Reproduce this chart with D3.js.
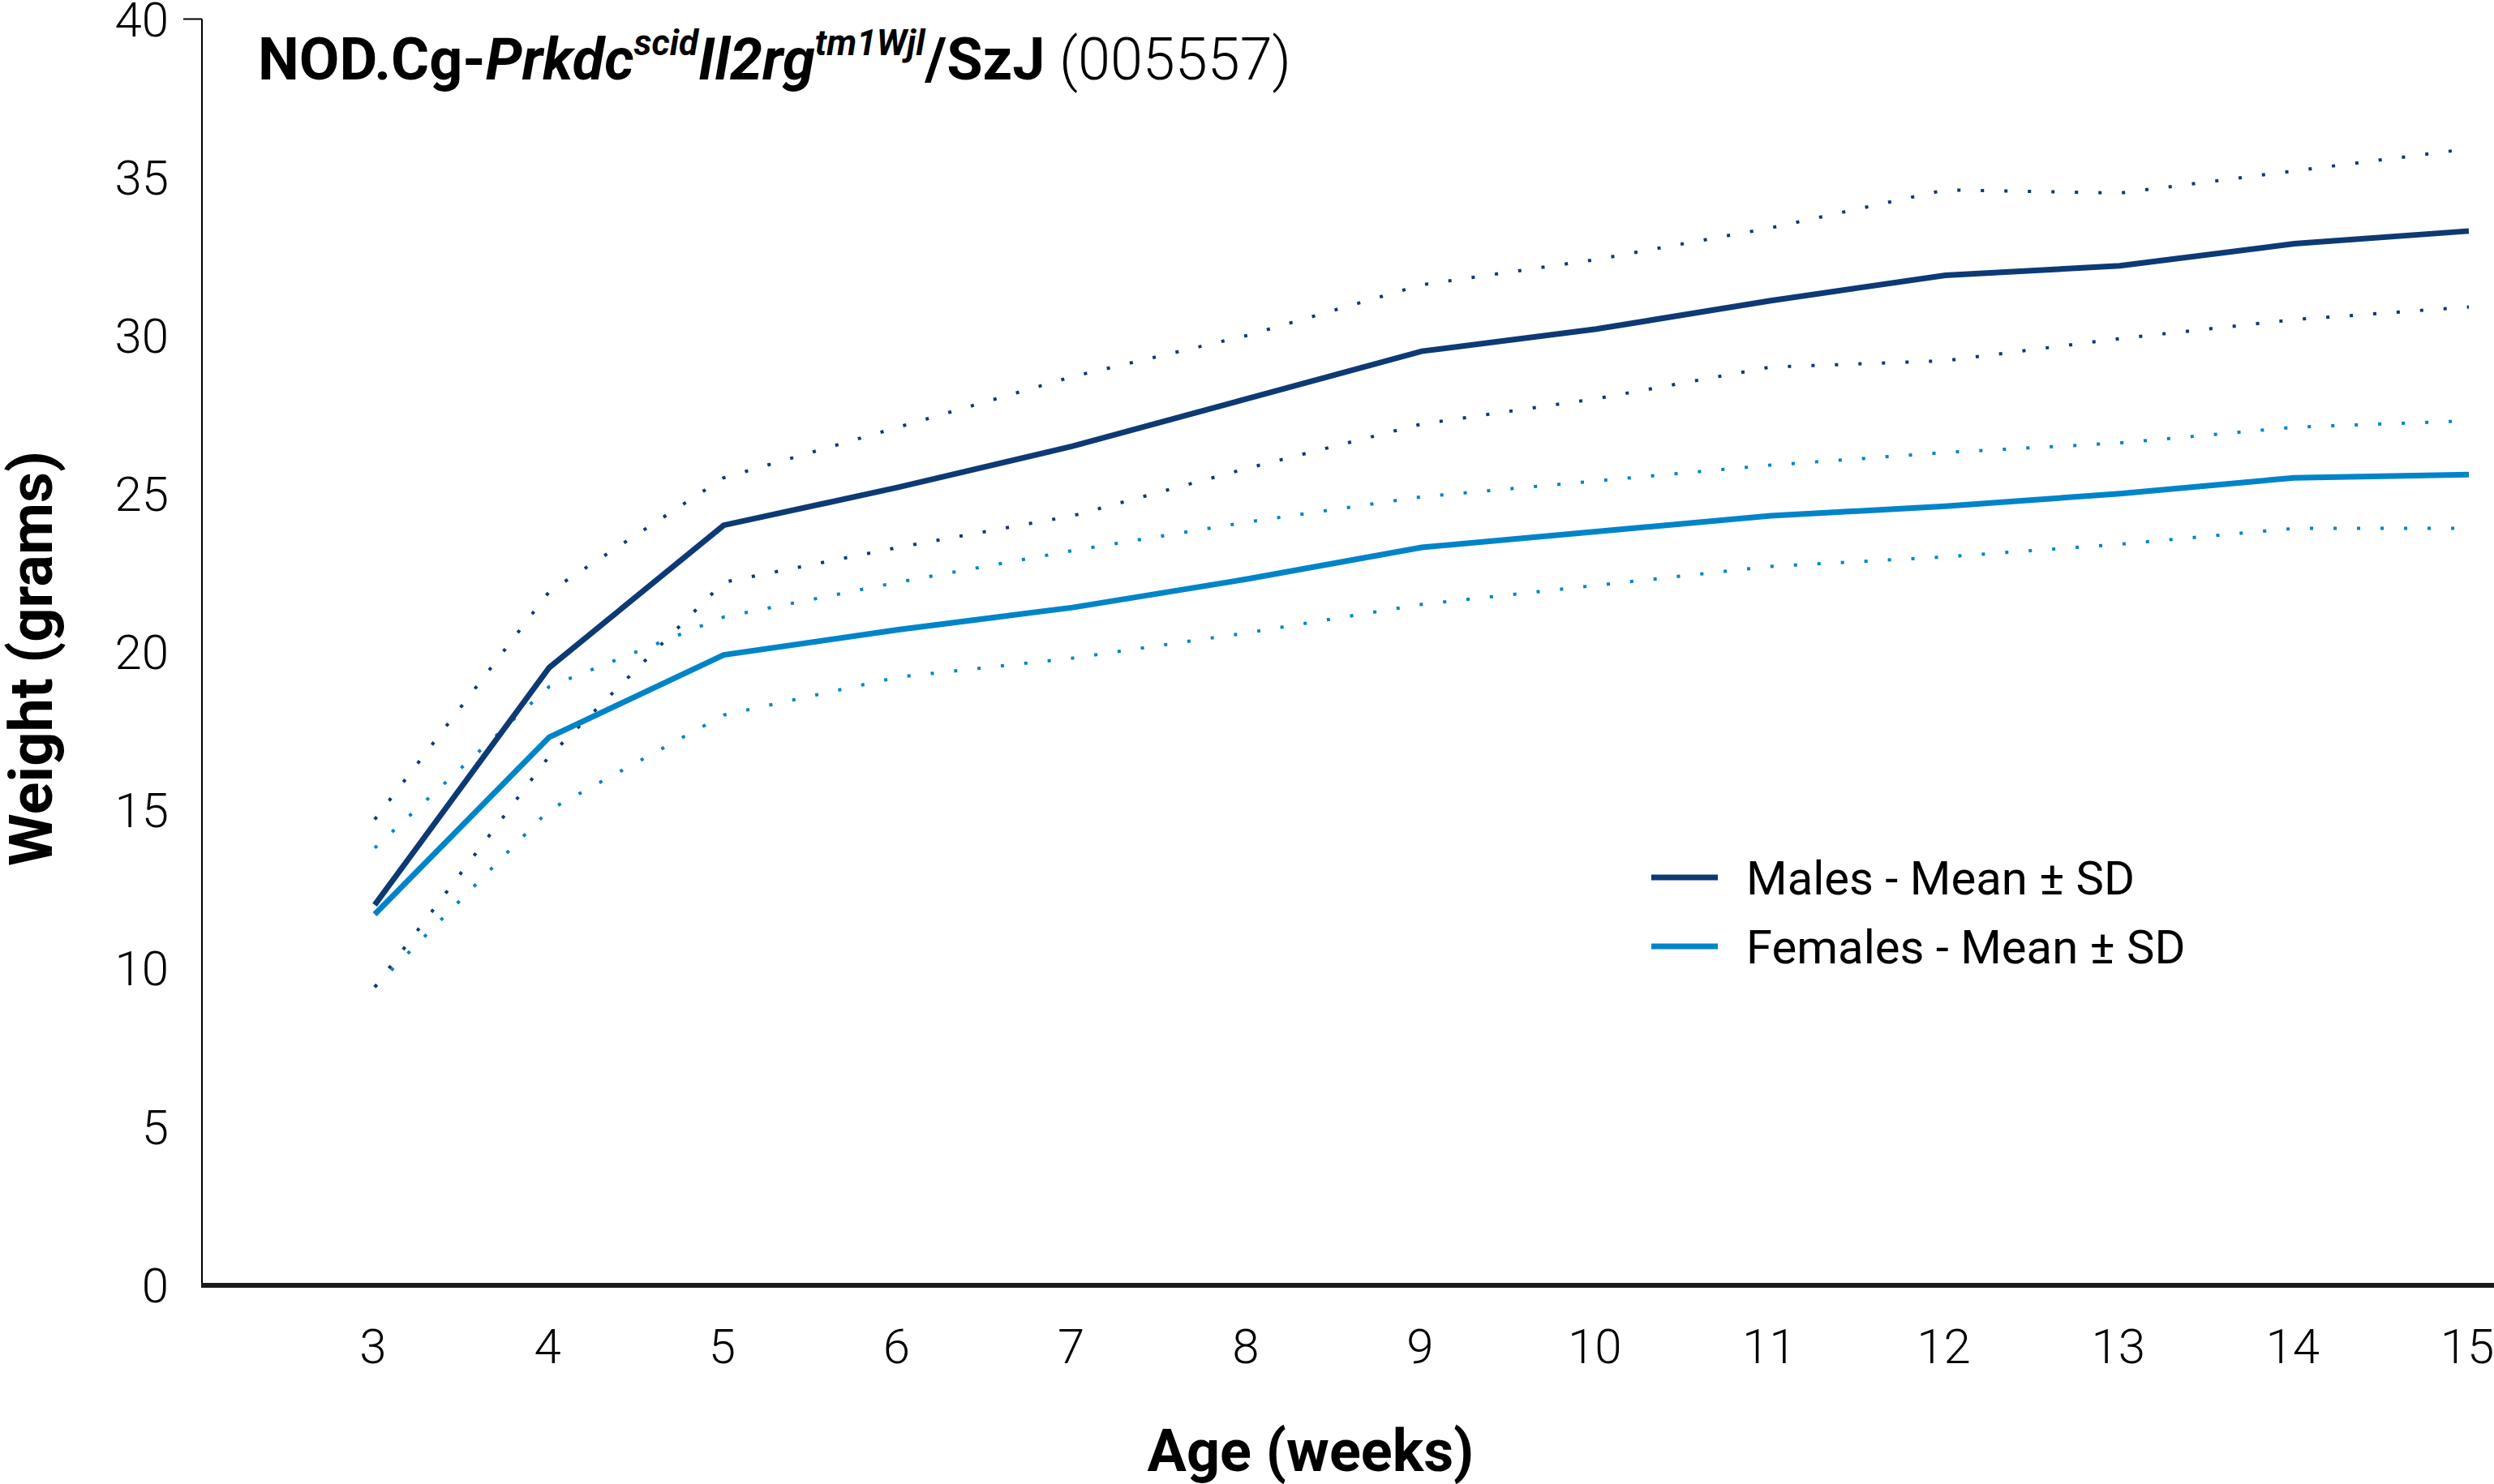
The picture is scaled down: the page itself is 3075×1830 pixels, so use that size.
<!DOCTYPE html>
<html>
<head>
<meta charset="utf-8">
<script src="https://cdn.jsdelivr.net/npm/d3@7"></script>
<style>
    html, body { margin: 0; padding: 0; background: #fff; }
    svg { display: block; font-family: Roboto, "DejaVu Sans", sans-serif; }
</style>
</head>
<body>
<div class="graph"></div>
<script>
"use strict";

var weeks = [3, 4, 5, 6, 7, 8, 9, 10, 11, 12, 13, 14, 15];
var yTicks = [0, 5, 10, 15, 20, 25, 30, 35, 40];

var maleMean = [12.0, 19.5, 24.0, 25.2, 26.5, 28.0, 29.5, 30.2, 31.1, 31.9, 32.2, 32.9, 33.3];
var maleUpper = [14.7, 21.9, 25.5, 27.1, 28.7, 30.0, 31.6, 32.4, 33.4, 34.6, 34.5, 35.2, 35.9];
var maleLower = [9.4, 16.7, 22.2, 23.3, 24.3, 25.8, 27.2, 28.0, 29.0, 29.2, 29.9, 30.5, 30.9];

var femaleMean = [11.7, 17.3, 19.9, 20.7, 21.4, 22.3, 23.3, 23.8, 24.3, 24.6, 25.0, 25.5, 25.6];
var femaleUpper = [13.8, 18.9, 21.1, 22.2, 23.2, 24.1, 24.9, 25.4, 25.9, 26.3, 26.6, 27.1, 27.3];
var femaleLower = [9.4, 15.0, 18.0, 19.2, 19.8, 20.6, 21.5, 22.1, 22.7, 23.0, 23.4, 23.9, 23.9];

var legendLabels = ["Males - Mean \u00b1 SD", "Females - Mean \u00b1 SD"];

var MALE_COLOR = "#0d3a75";
var FEMALE_COLOR = "#0084c9";

var width = 3075;
var height = 1830;
var axisLeft = 249;

var svg = d3.select(".graph").append("svg").attr("width", width).attr("height", height);

var xScale = d3.scaleLinear().domain([3, 15]).range([462, 3044]);
var yScale = d3.scaleLinear().domain([0, 40]).range([1584, 23.5]);

// y axis: plain line, labels only, a single tick at the top
svg.append("line").attr("x1", axisLeft).attr("x2", axisLeft)
    .attr("y1", yScale(40)).attr("y2", yScale(0))
    .attr("stroke", "#000").attr("stroke-width", 2);
svg.append("line").attr("x1", axisLeft - 23).attr("x2", axisLeft)
    .attr("y1", yScale(40)).attr("y2", yScale(40))
    .attr("stroke", "#000").attr("stroke-width", 2);

svg.selectAll(".ylabel").data(yTicks).enter().append("text")
    .attr("class", "ylabel")
    .attr("x", 208)
    .attr("y", function (d) { return yScale(d); })
    .attr("dy", "0.36em")
    .attr("text-anchor", "end")
    .attr("font-size", 60)
    .attr("font-weight", 300)
    .text(function (d) { return d; });

// x axis: heavy baseline, labels only
svg.append("line").attr("x1", axisLeft - 1).attr("x2", width)
    .attr("y1", yScale(0) + 1).attr("y2", yScale(0) + 1)
    .attr("stroke", "#1a1a1a").attr("stroke-width", 6);

svg.selectAll(".xlabel").data(weeks).enter().append("text")
    .attr("class", "xlabel")
    .attr("x", function (d) { return xScale(d) - 2; })
    .attr("y", 1681)
    .attr("text-anchor", "middle")
    .attr("font-size", 60)
    .attr("font-weight", 300)
    .text(function (d) { return d; });

// axis titles
svg.append("text")
    .attr("x", 1616).attr("y", 1814)
    .attr("text-anchor", "middle")
    .attr("font-size", 72)
    .attr("font-weight", 700)
    .text("Age (weeks)");

svg.append("text")
    .attr("transform", "translate(64," + 812 + ") rotate(-90)")
    .attr("text-anchor", "middle")
    .attr("font-size", 74)
    .attr("font-weight", 700)
    .text("Weight (grams)");

// series
var line = d3.line()
    .x(function (d, i) { return xScale(weeks[i]); })
    .y(function (d) { return yScale(d); });

function drawDotted(values, color) {
    svg.append("path").datum(values)
        .attr("d", line)
        .attr("fill", "none")
        .attr("stroke", color)
        .attr("stroke-width", 4)
        .attr("stroke-dasharray", "4 25");
}

function drawSolid(values, color) {
    svg.append("path").datum(values)
        .attr("d", line)
        .attr("fill", "none")
        .attr("stroke", color)
        .attr("stroke-width", 7)
        .attr("stroke-linejoin", "miter");
}

drawDotted(femaleUpper, FEMALE_COLOR);
drawDotted(femaleLower, FEMALE_COLOR);
drawDotted(maleUpper, MALE_COLOR);
drawDotted(maleLower, MALE_COLOR);
drawSolid(femaleMean, FEMALE_COLOR);
drawSolid(maleMean, MALE_COLOR);

// title
var title = svg.append("text")
    .attr("x", 318).attr("y", 98)
    .attr("font-size", 72)
    .attr("font-weight", 700);
title.append("tspan").text("NOD.Cg-");
title.append("tspan").attr("font-style", "italic").text("Prkdc");
title.append("tspan").attr("font-style", "italic").attr("font-size", 44).attr("dy", -30).text("scid");
title.append("tspan").attr("font-style", "italic").attr("dy", 30).text("Il2rg");
title.append("tspan").attr("font-style", "italic").attr("font-size", 44).attr("dy", -30).text("tm1Wjl");
title.append("tspan").attr("dy", 30).text("/SzJ");
title.append("tspan").attr("font-weight", 300).text(" (005557)");

// legend
var legend = svg.append("g").attr("transform", "translate(2036,1082)");
var legendColors = [MALE_COLOR, FEMALE_COLOR];
var rows = legend.selectAll("g").data(legendLabels).enter().append("g")
    .attr("transform", function (d, i) { return "translate(0," + i * 85 + ")"; });
rows.append("line")
    .attr("x1", 0).attr("x2", 82).attr("y1", 0).attr("y2", 0)
    .attr("stroke", function (d, i) { return legendColors[i]; })
    .attr("stroke-width", 7);
rows.append("text")
    .attr("x", 117).attr("y", 0)
    .attr("dy", "0.36em")
    .attr("font-size", 58)
    .attr("font-weight", 400)
    .text(function (d) { return d; });
</script>
</body>
</html>
